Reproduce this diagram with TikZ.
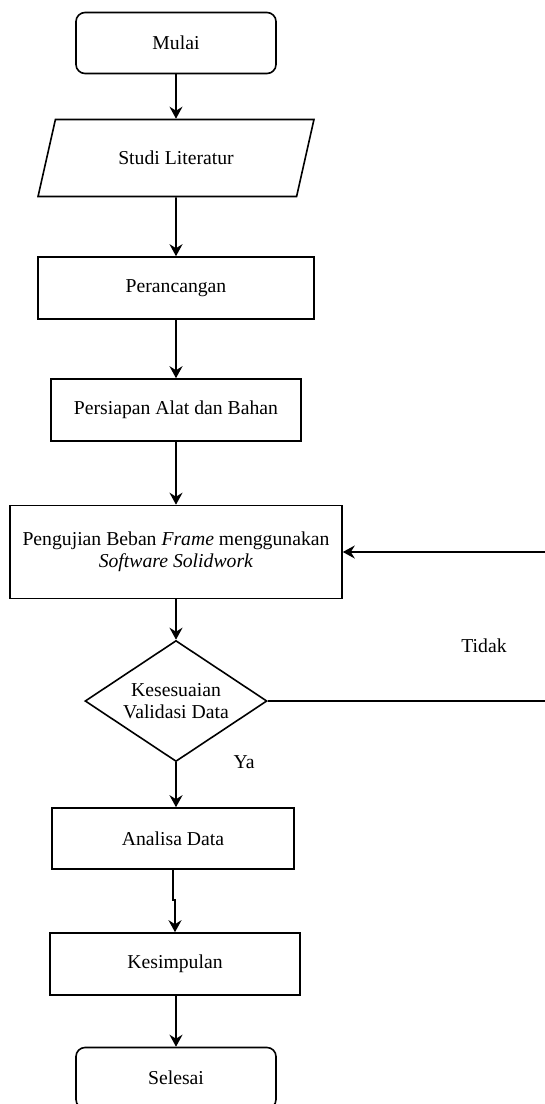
\documentclass[tikz,border=0pt]{standalone}
\usepackage{fontspec}
\setmainfont{Liberation Serif}
\usetikzlibrary{arrows.meta, shapes.geometric, positioning, calc}
\tikzset{
    panah/.style={line width=1.8pt, -{Stealth[length=12pt, width=13pt, inset=4pt]}},
    kotak/.style={draw, line width=1.6pt, rectangle, minimum height=62pt, align=center, inner sep=2pt},
    terminal/.style={kotak, rounded corners=9pt, minimum width=200pt, minimum height=61pt},
    masukan/.style={draw, line width=1.6pt, trapezium, trapezium left angle=66.8, trapezium right angle=113.2,
        trapezium stretches=true, minimum width=276pt, minimum height=77pt},
    keputusan/.style={draw, line width=1.6pt, diamond, aspect=1.5, minimum width=182pt, minimum height=121pt,
        align=center, inner sep=0pt}
}

\begin{document}
\begin{tikzpicture}[x=1pt, y=-1pt, font=\fontsize{19.7}{22.5}\selectfont]
    \useasboundingbox (0,0) rectangle (545,1104);

    % Awal dan tahap persiapan
    \node[terminal] (mulai) at (176,43) {Mulai};
    \node[masukan] (studi) at (176,158) {Studi Literatur};
    \node[kotak, minimum width=276pt] (rancang) at (176,288) {Perancangan};
    \node[kotak, minimum width=250pt] (siap) at (176,410) {Persiapan Alat dan Bahan};

    % Pengujian dan keputusan
    \node[kotak, minimum width=332pt, minimum height=93pt] (uji) at (176,552)
        {Pengujian Beban \textit{Frame} menggunakan\\\textit{Software Solidwork}};
    \node[keputusan] (valid) at (176,701) {Kesesuaian\\Validasi Data};
    \node (tidak) at (484,646) {Tidak};
    \node (ya) at (244,762) {Ya};

    % Hasil dan akhir
    \node[kotak, minimum width=242pt, minimum height=61pt] (analisa) at (173,838.5) {Analisa Data};
    \node[kotak, minimum width=250pt] (simpul) at (175,964) {Kesimpulan};
    \node[terminal] (selesai) at (176,1078) {Selesai};

    % Alur utama
    \draw[panah] (mulai) -- (studi);
    \draw[panah] (studi) -- (rancang);
    \draw[panah] (rancang) -- (siap);
    \draw[panah] (siap) -- (uji);
    \draw[panah] (uji) -- (valid);
    \draw[panah] (valid.south) -- (valid.south |- analisa.north);
    \coordinate (belok) at (173,900);
    \draw[panah] (analisa.south) -- (belok) -| (simpul.north);
    \draw[panah] (simpul.south -| selesai.north) -- (selesai);

    % Umpan balik (keluar dari tepi gambar)
    \coordinate (kanan1) at (565,701);
    \coordinate (kanan2) at (565,552);
    \draw[panah] (valid.east) -- (kanan1) -- (kanan2) -- (uji.east);
\end{tikzpicture}
\end{document}
